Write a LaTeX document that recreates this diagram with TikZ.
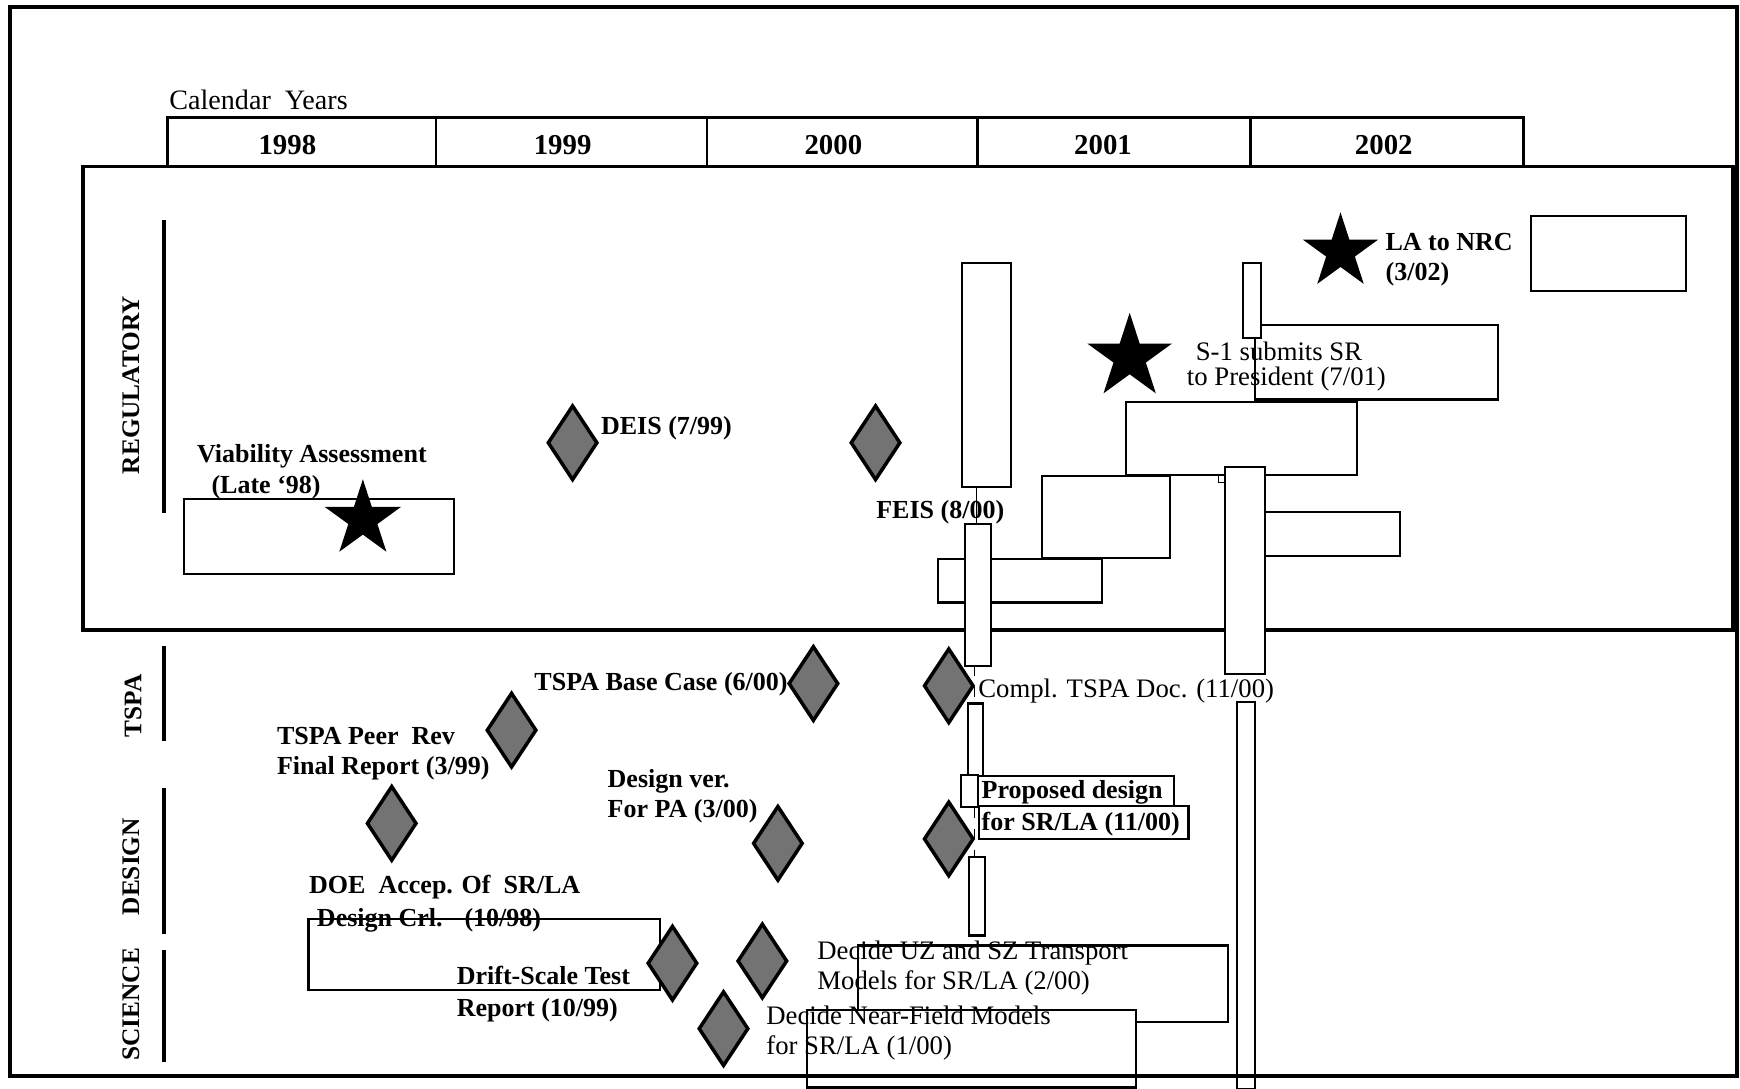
\documentclass[tikz,border=0pt]{standalone}
\usepackage{fontspec}
\setmainfont{Liberation Serif}
\usetikzlibrary{shapes.geometric}
\begin{document}
\begin{tikzpicture}[x=0.0111cm,y=-0.0111cm,
  box/.style={draw,line width=0.6pt,fill=white},
  frame/.style={draw,line width=1.1pt},
  thinline/.style={line width=0.4pt},
  rl/.style={inner sep=0pt,anchor=base west,font=\fontsize{7.6}{9}\selectfont},
  bl/.style={inner sep=0pt,anchor=base west,font=\fontsize{7.4}{9}\selectfont\bfseries},
  yr/.style={inner sep=0pt,font=\fontsize{8.2}{10}\selectfont\bfseries},
  sec/.style={inner sep=0pt,rotate=90,font=\fontsize{7.2}{9}\selectfont\bfseries},
  ms/.style={diamond,draw,line width=1pt,fill=black!55,inner sep=0pt,minimum width=0.5cm,minimum height=0.75cm},
  mstar/.style={star,star points=5,star point ratio=2.618,fill=black,inner sep=0pt,minimum size=#1},
  ]
\useasboundingbox (0,0) rectangle (1568,981);
\fill[white] (0,0) rectangle (1568,981);

% calendar header
\draw[line width=0.9pt] (151,150) -- (151,106) -- (1373,106) -- (1373,150);
\foreach \x in {393,637,881,1127} \draw[line width=0.7pt] (\x,106) -- (\x,150);
\node[rl,font=\fontsize{8}{9}\selectfont] (cal) at (152,99) {Calendar~ Years};
\node[yr] (y98) at (259,131) {1998};
\node[yr] (y99) at (507,131) {1999};
\node[yr] (y00) at (751,131) {2000};
\node[yr] (y01) at (994,131) {2001};
\node[yr] (y02) at (1247,131) {2002};

% regulatory box
\draw[frame] (75,150) rectangle (1562,568);

% section markers
\draw[line width=1pt] (148,198) -- (148,462);
\draw[line width=1pt] (148,582) -- (148,668);
\draw[line width=1pt] (148,710) -- (148,842);
\draw[line width=1pt] (148,856) -- (148,957);
\node[sec] (lreg) at (118,347) {REGULATORY};
\node[sec] (ltspa) at (120,636) {TSPA};
\node[sec] (ldes) at (118,781) {DESIGN};
\node[sec] (lsci) at (118,905) {SCIENCE};

% regulatory content
\draw[box] (166,450) rectangle (409,517);
\node[mstar=0.8cm] (va) at (327,468) {};
\node[bl] (vat1) at (177,417) {Viability Assessment};
\node[bl] (vat2) at (190,445) {(Late ‘98)};
\node[ms] (deis) at (516,399) {};
\node[bl] (deist) at (541,392) {DEIS (7/99)};
\node[ms] (feis) at (789,399) {};
\node[bl] (feist) at (789,467) {FEIS (8/00)};

\draw[box] (867,237) rectangle (911,439);
\draw[thinline] (880,439) -- (880,472);
\draw[box] (845,504) rectangle (993,543);
\draw[box] (939,429) rectangle (1054,503);
\draw[box] (870,472) rectangle (893,600);
\draw[box] (1015,362) rectangle (1223,428);
\draw[box] (1131,293) rectangle (1350,360);
\draw[box] (1120,237) rectangle (1136,305);
\draw[thinline] (1098,428) rectangle (1104,435);
\draw[box] (1104,421) rectangle (1140,607);
\draw[box] (1140,461) rectangle (1262,501);

\node[mstar=0.89cm] (s1) at (1018,322) {};
\node[rl] (s1t1) at (1077,325) {S-1 submits SR};
\node[rl] (s1t2) at (1069,347) {to President (7/01)};
\node[mstar=0.79cm] (la) at (1208,227) {};
\node[bl] (lat1) at (1248,226) {LA to NRC};
\node[bl] (lat2) at (1248,253) {(3/02)};
\draw[box] (1380,195) rectangle (1519,262);

% TSPA
\node[bl] (bc) at (481,622) {TSPA Base Case (6/00)};
\node[ms] (bcm) at (733,616) {};
\node[ms] (ctm) at (855,618) {};
\node[rl] (ct) at (881,629) {Compl. TSPA Doc. (11/00)};
\draw[dashed,thinline] (878,600) -- (878,634);
\draw[box] (872,634) rectangle (886,700);
\draw[box] (1115,633) rectangle (1131,981);
\node[ms] (prm) at (461,658) {};
\node[bl] (pr1) at (249,671) {TSPA Peer~ Rev};
\node[bl] (pr2) at (249,698) {Final Report (3/99)};

% DESIGN
\node[ms] (doem) at (353,742) {};
\draw[box] (278,828) rectangle (595,892);
\node[bl] (doe1) at (278,805) {DOE~ Accep. Of~ SR/LA};
\node[bl] (doe2) at (285,835) {Design Crl.};
\node[bl] (doe3) at (418,835) {(10/98)};
\node[bl] (dv1) at (547,710) {Design ver.};
\node[bl] (dv2) at (547,737) {For PA (3/00)};
\node[ms] (dvm) at (701,760) {};
\node[ms] (pdm) at (855,756) {};
\draw[box] (866,698) rectangle (881,727);
\draw[box] (881,699) rectangle (1058,726);
\node[bl] (pd1) at (884,720) {Proposed design};
\draw[box] (882,726) rectangle (1071,756);
\node[bl] (pd2) at (884,748) {for SR/LA (11/00)};
\draw[dashed,thinline] (878,728) -- (878,772);
\draw[box] (873,772) rectangle (888,843);

% SCIENCE
\node[ms] (dsm) at (606,868) {};
\node[ms] (uzm) at (687,866) {};
\node[ms] (nfm) at (652,927) {};
\node[bl] (ds1) at (411,887) {Drift-Scale Test};
\node[bl] (ds2) at (411,916) {Report (10/99)};
\draw[box] (773,852) rectangle (1107,921);
\draw[box] (727,910) rectangle (1024,980);
\node[rl] (uz1) at (736,865) {Decide UZ and SZ Transport};
\node[rl] (uz2) at (736,892) {Models for SR/LA (2/00)};
\node[rl] (nf1) at (690,923) {Decide Near-Field Models};
\node[rl] (nf2) at (690,950) {for SR/LA (1/00)};

% outer frame
\draw[frame] (9,6) rectangle (1565,970);
\end{tikzpicture}
\end{document}
